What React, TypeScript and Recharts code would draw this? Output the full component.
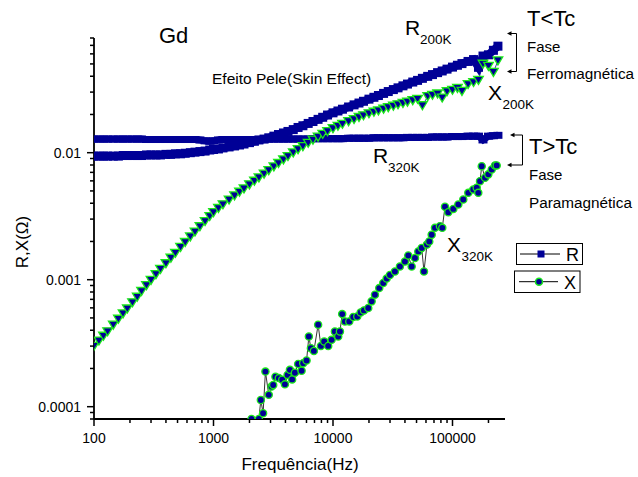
import { Scatter, ScatterChart, XAxis, YAxis } from "recharts";

const NAVY = "#000096";
const LIME = "#1be61b";
const FONT = "'Liberation Sans', Arial, Helvetica, sans-serif";

// frequency sweep shared by the dense 200 K / 320 K runs (Hz)
const freqSweep = [
  100, 110, 120, 130, 145, 160, 175, 190, 210, 230,
  250, 275, 300, 330, 360, 400, 440, 480, 530, 580,
  640, 700, 770, 850, 930, 1000, 1100, 1200, 1350, 1500,
  1650, 1800, 2000, 2200, 2400, 2650, 2900, 3200, 3500, 3850,
  4200, 4650, 5100, 5600, 6200, 6800, 7500, 8200, 9000, 10000,
  11000, 12000, 13500, 15000, 16500, 18000, 20000, 22000, 24000, 26500,
  29000, 32000, 35000, 38500, 42000, 46500, 51000, 56000, 62000, 68000,
  75000, 82000, 90000, 100000, 110000, 120000, 135000, 150000, 165000, 180000,
  200000, 220000, 240000,
];

// R at 200 K (ferromagnetic), ohms
const r200k = [
  0.0094, 0.0094, 0.0094, 0.0094, 0.0094, 0.0094, 0.0095, 0.0095, 0.0095, 0.0095,
  0.0095, 0.0096, 0.0096, 0.0096, 0.0096, 0.0097, 0.0097, 0.0098, 0.0098, 0.0099,
  0.01, 0.0101, 0.0102, 0.0103, 0.0105, 0.0106, 0.0107, 0.0109, 0.0111, 0.0113,
  0.0115, 0.0117, 0.012, 0.0123, 0.0126, 0.0128, 0.0131, 0.0135, 0.0139, 0.0143,
  0.0147, 0.0152, 0.0158, 0.0163, 0.017, 0.0176, 0.0183, 0.019, 0.0198, 0.0206,
  0.0213, 0.022, 0.0229, 0.0238, 0.0246, 0.0254, 0.0264, 0.0273, 0.0282, 0.0293,
  0.0303, 0.0314, 0.0324, 0.0336, 0.0347, 0.036, 0.0371, 0.0385, 0.0399, 0.0412,
  0.0427, 0.044, 0.0455, 0.0472, 0.0488, 0.0503, 0.0523, 0.0541, 0.047, 0.0577,
  0.059, 0.064, 0.069,
];

// R at 320 K (paramagnetic), ohms
const r320k = [
  0.0128, 0.0128, 0.0128, 0.0128, 0.0128, 0.0128, 0.0128, 0.0128, 0.0128, 0.0128,
  0.0128, 0.0127, 0.0127, 0.0127, 0.0127, 0.0127, 0.0127, 0.0127, 0.0127, 0.0127,
  0.0127, 0.0127, 0.0126, 0.0124, 0.0123, 0.0124, 0.0126, 0.0127, 0.0127, 0.0127,
  0.0127, 0.0127, 0.0127, 0.0127, 0.0127, 0.0127, 0.0128, 0.0128, 0.0128, 0.0128,
  0.0128, 0.0128, 0.0128, 0.0128, 0.0128, 0.0129, 0.0129, 0.0129, 0.0129, 0.0129,
  0.0129, 0.0129, 0.013, 0.013, 0.013, 0.013, 0.013, 0.0131, 0.0131, 0.0131,
  0.0131, 0.0131, 0.0131, 0.0131, 0.0132, 0.0132, 0.0132, 0.0132, 0.0132, 0.0133,
  0.0133, 0.0133, 0.0133, 0.0134, 0.0134, 0.0134, 0.0135, 0.0135, 0.0135, 0.0126,
  0.0135, 0.0136, 0.0137,
];

// X at 200 K, ohms
const x200k = [
  0.0003, 0.00033, 0.00036, 0.00039, 0.00044, 0.00049, 0.00054, 0.00059, 0.00066, 0.00073,
  0.00081, 0.0009, 0.00099, 0.0011, 0.00121, 0.00134, 0.00148, 0.00162, 0.0018, 0.00197,
  0.00218, 0.00238, 0.00262, 0.00288, 0.00315, 0.00338, 0.00365, 0.0039, 0.00425, 0.00458,
  0.0049, 0.0052, 0.0056, 0.00598, 0.00635, 0.0068, 0.00725, 0.00775, 0.00825, 0.0088,
  0.00935, 0.01, 0.0106, 0.0112, 0.0119, 0.0126, 0.0133, 0.014, 0.0147, 0.0155,
  0.0162, 0.0168, 0.0176, 0.0183, 0.019, 0.0196, 0.0203, 0.0209, 0.0214, 0.0221,
  0.0227, 0.0233, 0.0239, 0.0245, 0.0251, 0.0258, 0.0264, 0.0235, 0.0277, 0.0284,
  0.0291, 0.027, 0.0303, 0.0311, 0.0322, 0.0305, 0.0345, 0.0358, 0.0372, 0.0499,
  0.048, 0.043, 0.053,
];

// X at 320 K: sparse, noisy run
const x320kFreq = [
  2080, 2395, 2490, 2600, 2720, 2900, 3060, 3160, 3300, 3520,
  3760, 3960, 4170, 4360, 4550, 4800, 5110, 5460, 5630, 6010,
  6280, 6530, 6920, 7510, 7920, 8440, 9120, 9730, 10370, 11060,
  11430, 11940, 12590, 13680, 14770, 15960, 17030, 18150, 19730, 21050,
  22440, 24380, 26330, 28120, 29980, 32980, 36310, 40000, 42650, 45530,
  48530, 51740, 55250, 57720, 61130, 63910, 66960, 71330, 78530, 82140,
  86530, 92200, 101600, 111900, 123100, 135600, 149300, 159500, 164400, 169900,
  175600, 187200, 199500, 212800, 226800, 234400,
];
const x320k = [
  0.00008, 0.00008, 0.000113, 0.0000887, 0.000189, 0.000124, 0.000144, 0.000148, 0.000172, 0.000168,
  0.000163, 0.00015, 0.000178, 0.000195, 0.000164, 0.000185, 0.000217, 0.000192, 0.00022, 0.000231,
  0.000357, 0.000289, 0.000275, 0.000442, 0.000301, 0.000326, 0.000301, 0.000336, 0.000391, 0.000357,
  0.000391, 0.000536, 0.000469, 0.000469, 0.000508, 0.000513, 0.000552, 0.000573, 0.000598, 0.000675,
  0.000762, 0.000859, 0.000942, 0.00102, 0.00109, 0.00116, 0.00127, 0.00139, 0.00155, 0.00127,
  0.00148, 0.00167, 0.00178, 0.00116, 0.00189, 0.002, 0.00226, 0.00256, 0.00264, 0.00256,
  0.00375, 0.0034, 0.00361, 0.00391, 0.00428, 0.00483, 0.00513, 0.0053, 0.00483, 0.00597,
  0.00783, 0.00635, 0.00675, 0.00738, 0.00794, 0.00794,
];

const xMajor = [100, 1000, 10000, 100000];
const xTicks = [
  100, 200, 300, 400, 500, 600, 700, 800, 900,
  1000, 2000, 3000, 4000, 5000, 6000, 7000, 8000, 9000,
  10000, 20000, 30000, 40000, 50000, 60000, 70000, 80000, 90000,
  100000, 200000,
];
const yMajor = [0.0001, 0.001, 0.01];
const yTicks = [
  0.00008, 0.00009, 0.0001, 0.0002, 0.0003, 0.0004, 0.0005, 0.0006, 0.0007, 0.0008, 0.0009,
  0.001, 0.002, 0.003, 0.004, 0.005, 0.006, 0.007, 0.008, 0.009,
  0.01, 0.02, 0.03, 0.04, 0.05, 0.06, 0.07, 0.08,
];

const sweep = (vals: number[]) => freqSweep.map((f, i) => ({ f, v: vals[i] }));
const r200Data = sweep(r200k);
const r320Data = sweep(r320k);
const x200Data = sweep(x200k);
const x320Data = x320kFreq.map((f, i) => ({ f, v: x320k[i] }));

const XTick = (props: any) => {
  const { x, y, payload } = props;
  const major = xMajor.includes(payload.value);
  return (
    <g>
      <line x1={x} x2={x} y1={y} y2={y + (major ? 7 : 4)} stroke="#000" strokeWidth={1.5} />
      {major && (
        <text x={x} y={y + 24} textAnchor="middle" fontSize={14} fontFamily={FONT} fill="#000">
          {payload.value}
        </text>
      )}
    </g>
  );
};

const YTick = (props: any) => {
  const { x, y, payload } = props;
  const major = yMajor.includes(payload.value);
  return (
    <g>
      <line x1={x - (major ? 7 : 4)} x2={x} y1={y} y2={y} stroke="#000" strokeWidth={1.5} />
      {major && (
        <text x={x - 13} y={y + 5} textAnchor="end" fontSize={14} fontFamily={FONT} fill="#000">
          {String(payload.value)}
        </text>
      )}
    </g>
  );
};

// dense runs: square markers over a thick joining stroke read as one solid band
const Square = (p: any) => (
  <rect x={p.cx - 4.5} y={p.cy - 3.5} width={9} height={7} fill={NAVY} />
);
const BigSquare = (p: any) => (
  <rect x={p.cx - 4.5} y={p.cy - 4.5} width={9} height={9} fill={NAVY} />
);
const DownTri = (p: any) => (
  <polygon
    points={`${p.cx - 4.8},${p.cy - 3.8} ${p.cx + 4.8},${p.cy - 3.8} ${p.cx},${p.cy + 4.2}`}
    fill={NAVY}
    stroke={LIME}
    strokeWidth={1.3}
  />
);
const Dot = (p: any) => <circle cx={p.cx} cy={p.cy} r={3.6} fill={NAVY} stroke={LIME} strokeWidth={1.3} />;

const Arrow = ({ x1, x2, y }: { x1: number; x2: number; y: number }) => (
  <g>
    <line x1={x1} x2={x2 + 3} y1={y} y2={y} stroke="#000" strokeWidth={1} />
    <polygon points={`${x2},${y} ${x2 + 4.5},${y - 2.2} ${x2 + 4.5},${y + 2.2}`} fill="#000" />
  </g>
);

const Labeled = ({ x, y, main, sub }: { x: number; y: number; main: string; sub: string }) => (
  <g>
    <text x={x} y={y} fontSize={21}>{main}</text>
    <text x={x + (main === "R" ? 15 : 14.4)} y={y + 9} fontSize={13.5}>{sub}</text>
  </g>
);

function Notes() {
  return (
    <svg
      width={638}
      height={477}
      style={{ position: "absolute", left: 0, top: 0, pointerEvents: "none" }}
      fontFamily={FONT}
      fill="#000"
    >
      <text x={159} y={43} fontSize={22}>Gd</text>
      <text x={212} y={84} fontSize={15.5}>Efeito Pele(Skin Effect)</text>

      <Labeled x={405} y={35} main="R" sub="200K" />
      <Labeled x={488} y={100} main="X" sub="200K" />
      <Labeled x={373} y={163} main="R" sub="320K" />
      <Labeled x={447} y={252} main="X" sub="320K" />

      <text x={527} y={26} fontSize={22}>T&lt;Tc</text>
      <text x={527} y={52} fontSize={15}>Fase</text>
      <text x={527} y={79} fontSize={15.3}>Ferromagnética</text>
      <text x={529} y={154} fontSize={22}>T&gt;Tc</text>
      <text x={529} y={180} fontSize={15}>Fase</text>
      <text x={529} y={208} fontSize={15.3}>Paramagnética</text>

      <Arrow x1={516.5} x2={507} y={33.5} />
      <line x1={516.5} x2={516.5} y1={33.5} y2={71.5} stroke="#000" strokeWidth={1} />
      <Arrow x1={516.5} x2={507} y={71.5} />
      <Arrow x1={522.5} x2={510} y={135} />
      <line x1={522.5} x2={522.5} y1={135} y2={165} stroke="#000" strokeWidth={1} />
      <Arrow x1={522.5} x2={507} y={165} />

      <rect x={516.5} y={243.5} width={66} height={21} fill="#fff" stroke="#000" strokeWidth={1} />
      <line x1={520} x2={560} y1={254} y2={254} stroke="#000" strokeWidth={1} />
      <rect x={537.5} y={250.5} width={7} height={7} fill={NAVY} />
      <text x={566} y={260.5} fontSize={18}>R</text>

      <rect x={514.5} y={271} width={65.5} height={21.5} fill="#fff" stroke="#000" strokeWidth={1} />
      <line x1={519} x2={558} y1={281.7} y2={281.7} stroke="#000" strokeWidth={1} />
      <circle cx={539} cy={281.7} r={3.5} fill={NAVY} stroke={LIME} strokeWidth={1.5} />
      <text x={564} y={288.5} fontSize={18}>X</text>

      <text x={300} y={470} fontSize={17} textAnchor="middle">Frequência(Hz)</text>
      <text x={28} y={242} fontSize={17} textAnchor="middle" transform="rotate(-90 28 242)">
        R,X(Ω)
      </text>
    </svg>
  );
}

export default function App() {
  return (
    <div style={{ position: "absolute", left: 0, top: 0, width: 638, height: 477, background: "#fff" }}>
      <ScatterChart width={638} height={477} margin={{ top: 38, right: 133, bottom: 28, left: 34 }}>
        <XAxis
          type="number"
          dataKey="f"
          scale="log"
          domain={[100, 275000]}
          allowDataOverflow
          ticks={xTicks}
          interval={0}
          tick={<XTick />}
          tickLine={false}
          tickSize={0}
          tickMargin={0}
          axisLine={{ stroke: "#000", strokeWidth: 1.8 }}
          height={30}
        />
        <YAxis
          type="number"
          dataKey="v"
          scale="log"
          domain={[0.00008, 0.08]}
          allowDataOverflow
          ticks={yTicks}
          interval={0}
          tick={<YTick />}
          tickLine={false}
          tickSize={0}
          tickMargin={0}
          axisLine={{ stroke: "#000", strokeWidth: 1.8 }}
          width={60}
        />
        <Scatter
          data={r320Data}
          shape={<Square />}
          line={{ stroke: NAVY, strokeWidth: 7 }}
          lineType="joint"
          isAnimationActive={false}
        />
        <Scatter
          data={r200Data}
          shape={<BigSquare />}
          line={{ stroke: NAVY, strokeWidth: 8 }}
          lineType="joint"
          isAnimationActive={false}
        />
        <Scatter
          data={x200Data}
          shape={<DownTri />}
          line={{ stroke: NAVY, strokeWidth: 0.8 }}
          lineType="joint"
          isAnimationActive={false}
        />
        <Scatter
          data={x320Data}
          shape={<Dot />}
          line={{ stroke: "#000", strokeWidth: 0.8 }}
          lineType="joint"
          isAnimationActive={false}
        />
      </ScatterChart>
      <Notes />
    </div>
  );
}
